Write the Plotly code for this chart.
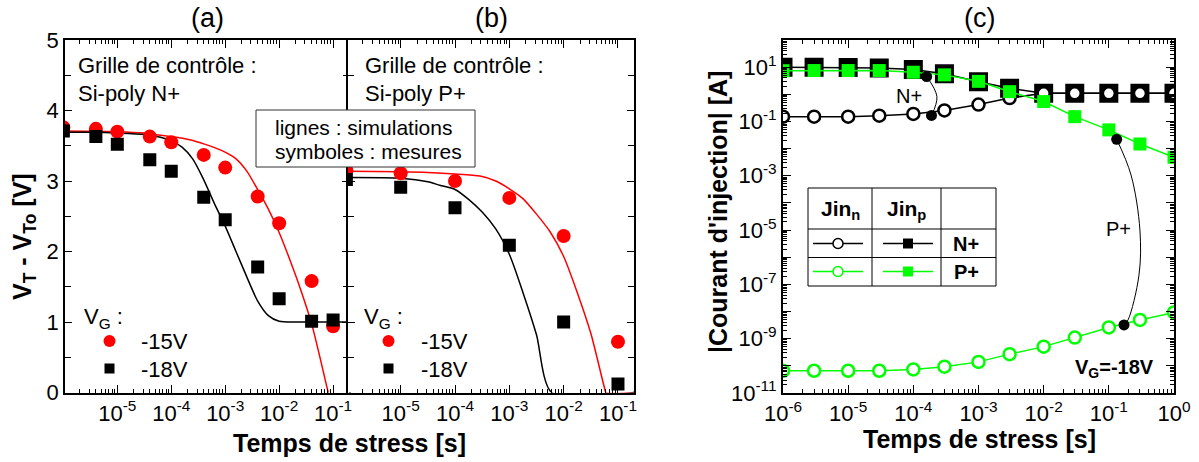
import plotly.graph_objects as go

# ---------------- data ----------------
# Panel (a): Si-poly N+ (measurements)
t_a = [1e-6, 4e-6, 1e-5, 4e-5, 1e-4, 4e-4, 1e-3, 4e-3, 1e-2, 4e-2, 1e-1]
meas_a_15V = [3.76, 3.74, 3.70, 3.63, 3.55, 3.37, 3.19, 2.78, 2.40, 1.58, 0.94]
meas_a_18V = [3.71, 3.63, 3.52, 3.30, 3.14, 2.77, 2.45, 1.78, 1.33, 1.01, 1.03]
# Panel (a): simulations (log10 of time, value)
sim_a_15V_logt = [-6, -5, -4.5, -4.3, -4.0, -3.68, -3.37, -3.06, -2.81, -2.6, -2.4, -2.2, -2.0, -1.8, -1.61, -1.4, -1.25, -1.09, -0.9]
sim_a_15V = [3.71, 3.70, 3.68, 3.66, 3.63, 3.59, 3.52, 3.43, 3.32, 3.14, 2.88, 2.60, 2.27, 1.88, 1.48, 0.98, 0.52, 0.0, -0.55]
sim_a_18V_logt = [-6, -5.5, -5, -4.5, -4.2, -4.0, -3.8, -3.6, -3.4, -3.2, -3.0, -2.8, -2.6, -2.4, -2.2, -2.0, -1.6, -0.7]
sim_a_18V = [3.69, 3.69, 3.68, 3.66, 3.62, 3.57, 3.48, 3.31, 3.02, 2.68, 2.36, 2.00, 1.64, 1.30, 1.09, 1.01, 1.0, 1.0]

# Panel (b): Si-poly P+
t_b = [1e-6, 1e-5, 1e-4, 1e-3, 1e-2, 1e-1]
meas_b_15V = [3.15, 3.11, 3.00, 2.76, 2.22, 0.72]
meas_b_18V = [3.02, 2.91, 2.62, 2.09, 1.00, 0.12]
sim_b_15V_logt = [-6, -5, -4.5, -4.0, -3.54, -3.25, -3.0, -2.75, -2.5, -2.25, -2.0, -1.75, -1.5, -1.25, -1.22, -0.7]
sim_b_15V = [3.14, 3.13, 3.12, 3.10, 3.07, 3.00, 2.89, 2.75, 2.53, 2.28, 1.93, 1.42, 0.84, 0.07, 0.0, 0.0]
sim_b_18V_logt = [-6, -5, -4.5, -4.28, -4.0, -3.75, -3.5, -3.25, -3.0, -2.75, -2.5, -2.22, -0.7]
sim_b_18V = [3.05, 3.04, 2.99, 2.94, 2.88, 2.74, 2.56, 2.32, 1.96, 1.42, 0.82, 0.0, 0.0]

# Panel (c): injection currents, VG = -18V
t_c = [1e-6, 3e-6, 1e-5, 3e-5, 1e-4, 3e-4, 1e-3, 3e-3, 1e-2, 3e-2, 1e-1, 3e-1, 1]
jin_n_Nplus = [0.15, 0.15, 0.15, 0.163, 0.19, 0.255, 0.42, 0.73, 1.09, 1.09, 1.09, 1.09, 1.09]
jin_p_Nplus = [10, 10, 9.8, 9.4, 8.2, 5.7, 2.9, 1.67, 1.09, 1.09, 1.09, 1.09, 1.09]
jin_p_Pplus = [7.4, 7.5, 7.5, 7.5, 6.5, 5.2, 3.0, 1.25, 0.54, 0.15, 0.049, 0.0148, 0.0048]
jin_n_Pplus = [6.6e-11, 6.6e-11, 6.6e-11, 6.6e-11, 7.4e-11, 9.3e-11, 1.4e-10, 2.7e-10, 5.1e-10, 1.1e-9, 2.6e-9, 4.9e-9, 9.3e-9]
# annotation dots and connecting arcs
dot_t = [1.6e-4, 1.9e-4, 0.132, 0.171]
dot_j = [4.5, 0.166, 0.022, 3.2e-9]
arc_N_t = [1.6e-4, 2.3e-4, 1.9e-4]
arc_N_j = [4.5, 0.82, 0.166]
arc_P_t = [0.132, 0.219, 0.30, 0.29, 0.197, 0.171]
arc_P_j = [0.022, 1.07e-3, 1e-5, 2.2e-7, 4.9e-9, 3.2e-9]

# tick labels
ab_x_ticks = [1e-5, 1e-4, 1e-3, 1e-2, 1e-1]
ab_x_text = ["10<sup>-5</sup>", "10<sup>-4</sup>", "10<sup>-3</sup>", "10<sup>-2</sup>", "10<sup>-1</sup>"]
c_x_ticks = [1e-6, 1e-5, 1e-4, 1e-3, 1e-2, 1e-1, 1]
c_x_text = ["10<sup>-6</sup>", "10<sup>-5</sup>", "10<sup>-4</sup>", "10<sup>-3</sup>", "10<sup>-2</sup>", "10<sup>-1</sup>", "10<sup>0</sup>"]
c_y_exps = list(range(-11, 3))
c_y_text = [("10<sup>%d</sup>" % e) if e % 2 != 0 else "" for e in c_y_exps]

# ---------------- figure ----------------
W, H = 1199, 462
FONT = "Liberation Sans, Arial, sans-serif"
RED = "#ff0000"
GREEN = "#00ff00"


def px(x):
    return x / W


def py(y):
    return 1 - y / H


fig = go.Figure()

# panel (a)
fig.add_trace(go.Scatter(x=[10 ** e for e in sim_a_15V_logt], y=sim_a_15V, mode="lines",
                         line=dict(color=RED, width=1.5, shape="spline", smoothing=0.7), xaxis="x", yaxis="y"))
fig.add_trace(go.Scatter(x=[10 ** e for e in sim_a_18V_logt], y=sim_a_18V, mode="lines",
                         line=dict(color="black", width=1.5, shape="spline", smoothing=0.7), xaxis="x", yaxis="y"))
fig.add_trace(go.Scatter(x=t_a, y=meas_a_15V, mode="markers",
                         marker=dict(symbol="circle", size=14, color=RED), xaxis="x", yaxis="y"))
fig.add_trace(go.Scatter(x=t_a, y=meas_a_18V, mode="markers",
                         marker=dict(symbol="square", size=13, color="black"), xaxis="x", yaxis="y"))

# panel (b)
fig.add_trace(go.Scatter(x=[10 ** e for e in sim_b_15V_logt], y=sim_b_15V, mode="lines",
                         line=dict(color=RED, width=1.5, shape="spline", smoothing=0.7), xaxis="x2", yaxis="y2"))
fig.add_trace(go.Scatter(x=[10 ** e for e in sim_b_18V_logt], y=sim_b_18V, mode="lines",
                         line=dict(color="black", width=1.5, shape="spline", smoothing=0.7), xaxis="x2", yaxis="y2"))
fig.add_trace(go.Scatter(x=t_b, y=meas_b_15V, mode="markers",
                         marker=dict(symbol="circle", size=14, color=RED), xaxis="x2", yaxis="y2"))
fig.add_trace(go.Scatter(x=t_b, y=meas_b_18V, mode="markers",
                         marker=dict(symbol="square", size=13, color="black"), xaxis="x2", yaxis="y2"))

# panel (c)
fig.add_trace(go.Scatter(x=t_c, y=jin_p_Nplus, mode="lines+markers",
                         line=dict(color="black", width=1.5),
                         marker=dict(symbol="square", size=16, color="black", line=dict(color="black", width=3)),
                         xaxis="x3", yaxis="y3"))
fig.add_trace(go.Scatter(x=t_c, y=jin_n_Nplus, mode="lines+markers",
                         line=dict(color="black", width=1.5),
                         marker=dict(symbol="circle", size=12, color="white", line=dict(color="black", width=2.5)),
                         xaxis="x3", yaxis="y3"))
fig.add_trace(go.Scatter(x=t_c, y=jin_p_Pplus, mode="lines+markers",
                         line=dict(color=GREEN, width=1.5),
                         marker=dict(symbol="square", size=13, color=GREEN),
                         xaxis="x3", yaxis="y3"))
fig.add_trace(go.Scatter(x=t_c, y=jin_n_Pplus, mode="lines+markers",
                         line=dict(color=GREEN, width=1.5),
                         marker=dict(symbol="circle", size=12, color="white", line=dict(color=GREEN, width=2.5)),
                         xaxis="x3", yaxis="y3"))
fig.add_trace(go.Scatter(x=arc_N_t, y=arc_N_j, mode="lines",
                         line=dict(color="black", width=1, shape="spline"), xaxis="x3", yaxis="y3"))
fig.add_trace(go.Scatter(x=arc_P_t, y=arc_P_j, mode="lines",
                         line=dict(color="black", width=1, shape="spline"), xaxis="x3", yaxis="y3"))
fig.add_trace(go.Scatter(x=dot_t, y=dot_j, mode="markers",
                         marker=dict(symbol="circle", size=11, color="black"), xaxis="x3", yaxis="y3"))

# ---------------- axes ----------------
minor_log = [m * 10 ** e for e in range(-12, 3) for m in range(2, 10)]
tickfont = dict(family=FONT, size=22, color="black")

ab_x_common = dict(type="log", range=[-5.97, -0.705], showline=True, linecolor="black", linewidth=1.5,
                   mirror="ticks", ticks="inside", ticklen=8, tickwidth=1.2, tickcolor="black",
                   showgrid=False, zeroline=False, tickmode="array", tickvals=ab_x_ticks, ticktext=ab_x_text,
                   tickfont=tickfont,
                   minor=dict(tickmode="array", tickvals=minor_log, ticks="inside", ticklen=4,
                              tickwidth=1, tickcolor="black", showgrid=False))
ab_y_common = dict(range=[0, 5], showline=True, linecolor="black", linewidth=1.5, mirror="ticks",
                   ticks="inside", ticklen=7, tickwidth=1.2, tickcolor="black", showgrid=False, zeroline=False,
                   tickmode="array", tickvals=[0, 1, 2, 3, 4, 5], tickfont=tickfont,
                   minor=dict(tickmode="array", tickvals=[0.5, 1.5, 2.5, 3.5, 4.5], ticks="inside",
                              ticklen=6, tickwidth=1.2, tickcolor="black", showgrid=False))

y_dom_ab = [1 - 392.5 / H, 1 - 40 / H]
y_dom_c = [1 - 393 / H, 1 - 40 / H]

fig.update_layout(
    xaxis=dict(ab_x_common, domain=[px(65), px(349)], anchor="y"),
    yaxis=dict(ab_y_common, domain=y_dom_ab, anchor="x"),
    xaxis2=dict(ab_x_common, domain=[px(348), px(634)], anchor="y2"),
    yaxis2=dict(ab_y_common, domain=y_dom_ab, anchor="x2", showticklabels=False),
    xaxis3=dict(type="log", range=[-6, 0], domain=[px(783), px(1174)], anchor="y3",
                showline=True, linecolor="black", linewidth=2, mirror="ticks", ticks="inside", ticklen=8,
                tickwidth=1.2, tickcolor="black", showgrid=False, zeroline=False,
                tickmode="array", tickvals=c_x_ticks, ticktext=c_x_text, tickfont=tickfont,
                minor=dict(tickmode="array", tickvals=minor_log, ticks="inside", ticklen=4,
                           tickwidth=1, tickcolor="black", showgrid=False)),
    yaxis3=dict(type="log", range=[-11, 2], domain=y_dom_c, anchor="x3",
                showline=True, linecolor="black", linewidth=2, mirror="ticks", ticks="inside", ticklen=8,
                tickwidth=1.2, tickcolor="black", showgrid=False, zeroline=False,
                tickmode="array", tickvals=[10.0 ** e for e in c_y_exps], ticktext=c_y_text, tickfont=tickfont,
                minor=dict(tickmode="array", tickvals=minor_log, ticks="inside", ticklen=4,
                           tickwidth=1, tickcolor="black", showgrid=False)),
    width=W, height=H, margin=dict(l=0, r=0, t=0, b=0, autoexpand=False),
    plot_bgcolor="white", paper_bgcolor="white", showlegend=False,
)

# ---------------- annotations ----------------
def txt(x, y, s, size, xanchor="center", yanchor="middle", angle=0):
    return dict(x=px(x), y=py(y), xref="paper", yref="paper", text=s, showarrow=False,
                font=dict(family=FONT, size=size, color="black"),
                xanchor=xanchor, yanchor=yanchor, textangle=angle)


ann = [
    txt(207, 18, "(a)", 27), txt(491, 18, "(b)", 27), txt(979, 18, "(c)", 27),
    txt(349, 443, "<b>Temps de stress [s]</b>", 25),
    txt(979, 439, "<b>Temps de stress [s]</b>", 25),
    txt(24, 237, "<b>V<sub>T</sub> - V<sub>To</sub> [V]</b>", 25, angle=-90),
    txt(718, 212, "<b>|Courant d'injection| [A]</b>", 25, angle=-90),
    txt(76, 65, "Grille de contrôle :", 22, xanchor="left"),
    txt(76, 93, "Si-poly N+", 22, xanchor="left"),
    txt(363, 65, "Grille de contrôle :", 22, xanchor="left"),
    txt(363, 93, "Si-poly P+", 22, xanchor="left"),
    txt(273, 127, "lignes : simulations", 21, xanchor="left"),
    txt(273, 152, "symboles : mesures", 21, xanchor="left"),
    txt(82, 318, "V<sub>G</sub> :", 22, xanchor="left"),
    txt(139, 341, "-15V", 22, xanchor="left"),
    txt(139, 369, "-18V", 22, xanchor="left"),
    txt(362, 318, "V<sub>G</sub> :", 22, xanchor="left"),
    txt(419, 341, "-15V", 22, xanchor="left"),
    txt(419, 369, "-18V", 22, xanchor="left"),
    txt(909, 96, "N+", 20),
    txt(1118, 229, "P+", 20),
    txt(1156, 368, "<b>V<sub>G</sub>=-18V</b>", 20, xanchor="right"),
    txt(840, 210, "<b>Jin<sub>n</sub></b>", 21),
    txt(906, 210, "<b>Jin<sub>p</sub></b>", 21),
    txt(966, 244, "<b>N+</b>", 20),
    txt(966, 272, "<b>P+</b>", 20),
]
fig.update_layout(annotations=ann)

# ---------------- shapes (boxes, legend swatches) ----------------
def rect(x0, y0, x1, y1, fill=None, lc="black", lw=1):
    return dict(type="rect", xref="paper", yref="paper", x0=px(x0), y0=py(y0), x1=px(x1), y1=py(y1),
                line=dict(color=lc, width=lw), fillcolor=fill if fill else "rgba(0,0,0,0)", layer="above")


def line(x0, y0, x1, y1, lc="black", lw=1):
    return dict(type="line", xref="paper", yref="paper", x0=px(x0), y0=py(y0), x1=px(x1), y1=py(y1),
                line=dict(color=lc, width=lw), layer="above")


def circ(cx, cy, r, fill, lc, lw=0):
    return dict(type="circle", xref="paper", yref="paper", x0=px(cx - r), y0=py(cy + r), x1=px(cx + r),
                y1=py(cy - r), fillcolor=fill, line=dict(color=lc, width=lw), layer="above")


shapes = [
    rect(256, 110, 475, 167, fill="white", lc="#333333", lw=1),
    # panel (a) legend swatches
    circ(109.5, 341, 6, RED, RED), rect(104.5, 363.5, 114.5, 373.5, fill="black", lw=0),
    # panel (b) legend swatches
    circ(388.5, 341, 6, RED, RED), rect(383.5, 363.5, 393.5, 373.5, fill="black", lw=0),
    # panel (c) legend table
    rect(808, 188, 996, 286, lw=1),
    line(872, 188, 872, 286), line(941, 188, 941, 286),
    line(808, 229, 996, 229), line(808, 257.5, 996, 257.5),
    line(813, 243.5, 863, 243.5, lw=1.5), circ(838, 243.5, 5, "white", "black", 1.5),
    line(883, 243.5, 933, 243.5, lw=1.5), rect(903, 238.5, 913, 248.5, fill="black", lw=0),
    line(813, 271.5, 863, 271.5, lc=GREEN, lw=1.5), circ(838, 271.5, 5, "white", GREEN, 1.5),
    line(883, 271.5, 933, 271.5, lc=GREEN, lw=1.5), rect(903, 266.5, 913, 276.5, fill=GREEN, lw=0),
]
fig.update_layout(shapes=shapes)

fig.write_html("out.html",
               config={"displayModeBar": False},
               post_script="document.body.style.margin='0px';document.body.style.padding='0px';"
                           "document.body.style.overflow='hidden';")
